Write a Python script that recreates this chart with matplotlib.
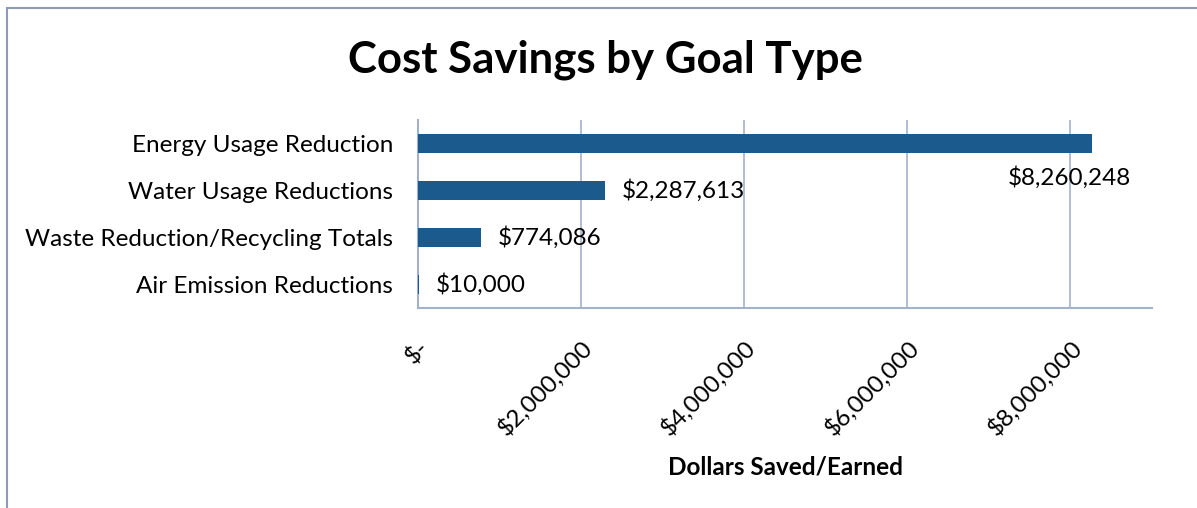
import matplotlib
matplotlib.use("Agg")
import matplotlib.pyplot as plt
from matplotlib.patches import Rectangle
from matplotlib.ticker import FuncFormatter

plt.rcParams['font.family'] = ['Lato', 'DejaVu Sans']

# savings per goal type, bottom row first
goals = ['Air Emission Reductions', 'Waste Reduction/Recycling Totals',
         'Water Usage Reductions', 'Energy Usage Reduction']
savings = [10000, 774086, 2287613, 8260248]
xticks = [0, 2000000, 4000000, 6000000, 8000000]

bar_color = '#1b5a8c'
grid_color = '#a3b1cc'
fs = 17.5

fig = plt.figure(figsize=(11.97, 5.08), dpi=100)
fig.patch.set_facecolor('white')

# chart area border
fig.add_artist(Rectangle((7 / 1197, -0.1), 1.2, 1 - 8 / 508 + 0.1,
                         transform=fig.transFigure, fill=False,
                         edgecolor='#8c9bb8', linewidth=1.5))

ax = fig.add_axes([418 / 1197, 1 - 308 / 508, (1152 - 418) / 1197, (308 - 120) / 508])
bars = ax.barh(range(len(goals)), savings, height=0.4, color=bar_color, zorder=3)

ax.set_xlim(0, 9000000)
ax.set_ylim(-0.5, len(goals) - 0.5)
ax.set_yticks(range(len(goals)))
ax.set_yticklabels(goals, fontsize=fs)
ax.set_xticks(xticks)
ax.xaxis.set_major_formatter(FuncFormatter(lambda v, p: '$-' if v == 0 else f'${v:,.0f}'))
for lbl in ax.get_xticklabels():
    lbl.set_rotation(45)
    lbl.set_ha('right')
    lbl.set_va('top')
    lbl.set_rotation_mode('anchor')
    lbl.set_fontsize(fs)
ax.tick_params(axis='both', length=0)
ax.tick_params(axis='x', pad=20)
ax.tick_params(axis='y', pad=18)

ax.grid(axis='x', color=grid_color, linewidth=1.2, zorder=0)
for side in ['top', 'right']:
    ax.spines[side].set_visible(False)
for side in ['left', 'bottom']:
    ax.spines[side].set_color(grid_color)
    ax.spines[side].set_linewidth(1.5)

# value labels
for i, v in enumerate(savings):
    if v == max(savings):
        ax.annotate(f'${v:,.0f}', (v, i), xytext=(-22, -34), textcoords='offset pixels',
                    ha='center', va='center', fontsize=fs, zorder=4)
    else:
        ax.annotate(f'${v:,.0f}', (v, i), xytext=(17, 0), textcoords='offset pixels',
                    ha='left', va='center', fontsize=fs, zorder=4)

ax.set_xlabel('Dollars Saved/Earned', fontsize=fs, fontweight='bold', labelpad=12)
fig.text(605 / 1197, 1 - 60 / 508, 'Cost Savings by Goal Type', ha='center', va='center',
         fontsize=31.5, fontweight='bold')

fig.savefig('out.png', dpi=100)
